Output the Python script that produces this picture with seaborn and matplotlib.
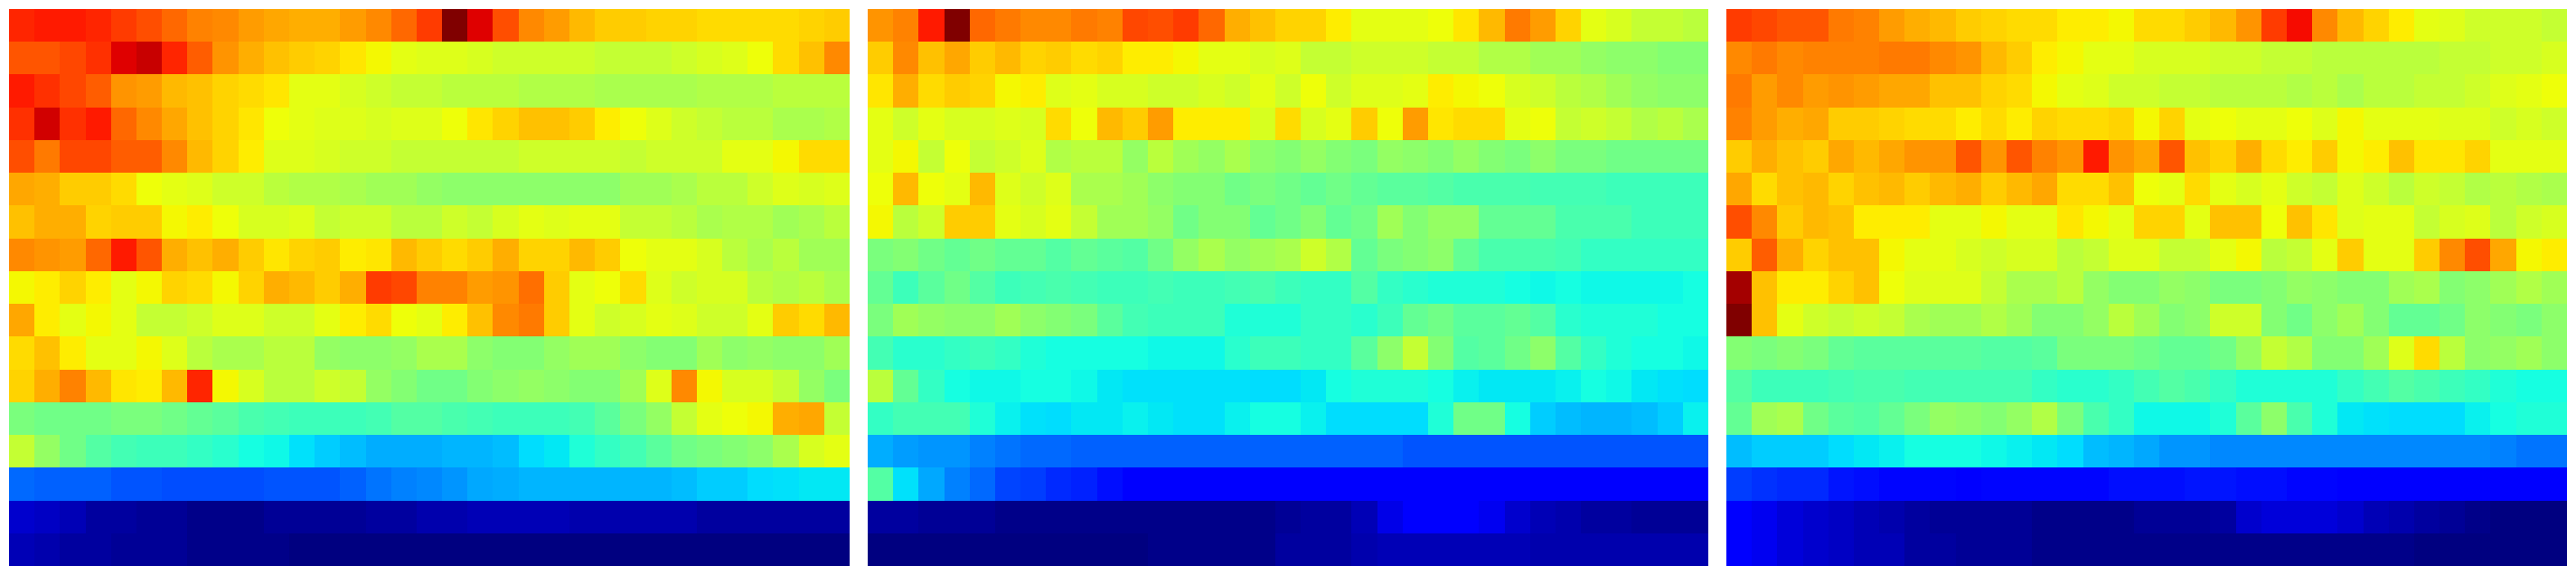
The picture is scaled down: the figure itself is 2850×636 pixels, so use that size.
import numpy as np
import matplotlib
matplotlib.use("Agg")
import matplotlib.pyplot as plt
from matplotlib.colors import FuncNorm
import seaborn as sns

# values on a 0-100 reading scale, top row first
panel_left = [
    [88,89,89,88,86,84,81,78,77,75,74,73,73,75,77,81,86,100,92,84,77,75,72,70,70,69,69,68,68,68,68,69,70],
    [83,83,85,87,92,94,88,82,76,73,71,70,69,67,65,63,62,62,61,60,60,60,60,59,59,59,60,61,62,64,68,71,77],
    [89,87,85,82,76,75,72,71,69,68,67,63,63,61,60,59,59,58,58,58,57,57,57,56,56,56,56,57,57,57,58,58,58],
    [87,93,87,89,81,77,74,71,69,67,64,63,62,62,61,62,62,64,67,69,71,71,70,66,64,62,60,59,58,58,56,56,57],
    [84,79,85,85,82,82,77,72,69,66,62,62,61,60,60,59,59,59,59,59,60,60,60,60,59,60,60,60,63,63,65,68,68],
    [74,73,70,70,68,64,63,62,60,60,58,57,57,56,55,55,54,53,53,53,53,53,53,53,55,55,56,58,58,60,62,61,62],
    [71,73,73,69,70,70,65,66,64,61,61,62,59,60,60,58,58,60,59,61,63,62,63,63,59,59,58,56,57,57,55,56,58],
    [77,76,75,81,89,83,73,71,73,70,67,69,70,66,67,72,70,68,70,73,69,69,72,70,64,63,63,61,58,56,58,55,55],
    [65,66,69,66,63,65,69,68,65,69,73,72,70,73,86,85,78,78,75,76,80,70,63,64,68,62,60,61,61,58,57,58,56],
    [74,66,63,65,63,59,59,60,62,62,60,60,63,66,68,64,63,66,71,77,79,70,63,60,61,63,62,60,60,63,70,68,72],
    [68,71,66,63,63,65,62,58,56,56,58,58,54,53,53,54,56,56,53,52,52,54,55,55,53,52,52,55,53,54,53,53,55],
    [69,73,78,72,67,66,72,88,65,61,58,58,60,59,54,52,50,50,52,53,54,53,52,52,55,62,77,65,61,61,59,54,51],
    [51,50,50,50,51,51,50,49,48,46,45,44,44,44,45,47,47,46,45,44,44,44,45,48,51,54,59,63,64,65,73,74,59],
    [59,54,50,47,45,44,44,43,42,40,39,36,34,33,31,31,31,32,32,33,35,37,41,43,45,48,50,51,52,53,56,61,63],
    [24,23,23,23,22,22,21,21,21,21,22,22,22,23,25,26,27,28,30,31,32,32,32,32,32,32,33,34,34,35,36,37,37],
    [7,6,5,3,3,2,2,1,1,1,2,2,2,2,3,3,4,4,5,5,5,5,4,4,4,4,4,3,3,3,3,3,3],
    [5,4,3,3,2,2,2,1,1,1,1,0,0,0,0,0,0,0,0,0,0,0,0,0,0,0,0,0,0,0,0,0,0],
]

panel_middle = [
    [76,78,89,100,81,79,77,77,79,78,85,84,86,81,73,71,69,69,66,63,63,63,64,67,72,79,75,69,63,61,59,59,58],
    [70,77,71,74,70,72,69,70,68,69,66,66,65,63,63,61,62,59,59,60,60,60,59,59,57,57,55,55,54,53,53,52,52],
    [67,73,68,70,69,65,66,62,63,61,61,60,60,61,60,63,60,64,60,62,62,63,66,65,64,61,60,58,57,55,54,53,53],
    [63,60,63,61,61,62,61,68,64,72,70,75,66,66,66,61,68,61,63,70,64,75,67,68,68,63,64,59,60,59,57,58,56],
    [63,65,59,64,59,60,62,57,58,58,54,58,55,54,56,53,52,54,52,51,54,53,52,54,52,51,53,51,51,50,50,50,50],
    [64,72,64,63,72,62,60,62,56,56,55,53,52,52,50,51,50,49,50,49,48,48,47,46,46,46,45,45,45,44,44,44,44],
    [65,58,60,70,70,63,61,63,59,55,55,54,50,52,52,49,50,52,49,50,55,52,54,54,49,49,49,46,46,46,44,44,44],
    [51,52,50,49,50,49,49,47,49,48,47,50,54,56,54,55,56,60,57,49,51,52,53,49,46,46,46,45,43,43,43,43,43],
    [49,44,48,50,47,44,45,46,45,44,44,45,44,44,45,46,44,43,43,47,43,42,41,41,41,40,39,40,39,39,39,39,40],
    [51,55,54,53,53,55,53,52,51,48,45,44,44,44,41,41,41,43,43,42,44,49,50,48,48,49,47,42,41,41,41,40,40],
    [45,42,42,43,44,43,41,40,40,40,40,39,39,39,42,44,44,43,43,48,53,59,52,47,48,50,53,47,43,41,40,40,39],
    [58,49,43,40,39,39,40,40,39,37,36,36,36,36,36,35,35,37,40,41,41,41,40,38,37,37,37,38,40,39,37,36,35],
    [43,45,45,45,41,38,36,35,37,37,38,37,36,36,38,40,40,38,35,35,35,35,41,50,50,40,34,33,32,32,33,34,38],
    [31,29,28,28,26,25,24,24,23,23,23,23,23,23,23,23,23,23,23,23,23,22,22,22,22,22,22,22,22,22,22,22,22],
    [47,36,30,26,24,20,19,17,16,14,12,11,11,11,11,11,11,11,11,11,11,11,11,11,11,11,11,11,11,11,11,11,11],
    [3,3,2,2,2,1,1,1,1,1,1,1,1,1,1,1,2,3,3,5,9,11,11,11,10,7,5,4,3,3,2,2,2],
    [0,0,0,0,0,0,0,0,0,0,0,1,1,1,1,1,3,3,3,4,5,5,5,5,5,5,4,4,4,4,4,4,4],
]

panel_right = [
    [86,85,83,83,79,78,75,73,72,70,69,68,68,66,66,65,68,68,70,72,76,86,90,77,72,69,66,63,62,60,60,60,59],
    [77,79,77,78,78,78,79,79,77,76,72,70,66,65,63,63,61,61,61,60,60,59,59,58,58,58,58,58,59,59,60,60,61],
    [79,75,77,75,76,75,74,74,71,71,69,68,65,63,62,60,60,59,59,58,58,58,57,58,56,58,58,59,59,60,62,63,64],
    [78,75,73,74,70,70,69,68,68,66,68,66,69,68,68,69,65,69,63,64,63,63,64,62,65,63,63,63,62,62,60,61,60],
    [70,73,71,70,74,72,74,76,76,83,76,83,78,76,89,76,74,83,71,69,73,68,66,70,65,66,71,67,67,69,63,63,63],
    [74,68,71,72,69,71,72,70,72,73,70,72,74,68,68,71,64,63,68,63,61,63,60,59,62,60,58,60,59,57,58,57,56],
    [84,77,70,72,71,66,66,66,63,63,65,63,63,67,65,63,69,69,63,71,71,64,71,67,62,63,63,59,61,62,58,60,61],
    [70,82,73,69,71,71,65,63,63,61,60,61,61,58,59,62,62,59,59,63,65,58,59,63,70,63,63,70,77,84,74,65,66],
    [97,71,66,66,69,71,64,62,62,62,59,56,56,58,54,52,52,54,53,51,51,52,54,53,52,52,55,56,52,53,55,57,55],
    [100,71,63,60,59,60,59,56,55,55,57,55,52,52,54,58,55,52,53,60,60,52,50,53,55,52,49,49,50,53,52,51,53],
    [52,51,52,51,49,48,48,48,48,48,47,47,48,51,51,51,50,49,49,50,54,59,57,52,52,55,62,68,58,53,54,55,53],
    [47,44,44,44,45,46,46,45,45,45,45,45,43,42,42,43,45,47,46,43,41,41,41,41,43,45,47,46,44,43,41,40,40],
    [49,55,56,50,48,47,49,51,54,53,52,54,57,51,46,43,39,39,39,41,48,53,46,41,37,36,35,35,35,38,40,41,41],
    [33,34,34,34,35,37,38,40,40,40,39,38,37,35,33,32,30,28,28,27,27,27,27,27,27,27,27,27,27,27,26,25,25],
    [19,18,17,17,15,14,13,13,13,12,13,13,13,13,13,14,14,14,15,15,14,14,13,13,12,12,11,11,11,11,11,11,11],
    [11,10,8,7,6,5,4,3,2,2,2,2,1,1,1,1,2,2,2,3,7,8,8,8,7,5,4,3,2,1,0,0,0],
    [11,10,8,7,6,5,5,3,3,2,2,2,1,1,1,1,1,1,1,1,1,1,1,1,1,1,1,0,0,0,0,0,0],
]

# reading scale against position on the jet colormap
scale_read = [0, 12, 23, 25, 27, 30, 33, 35, 37, 38, 40, 42, 44, 46, 48, 50, 52, 54, 56, 58, 60, 81, 85, 88, 90, 100]
scale_jet = [0, 12, 22, 24, 26, 29, 31, 34, 35.5, 36, 37.5, 40, 42.5, 44, 46, 48.5, 51, 53, 55.7, 57.5, 60, 80, 83.5, 87, 89.5, 100]

panels = [panel_left, panel_middle, panel_right]
lefts = [10, 960, 1910]

W, H = 2850, 636
norm = FuncNorm((lambda v: np.interp(v, scale_read, scale_jet),
                 lambda v: np.interp(v, scale_jet, scale_read)), vmin=0, vmax=100)

fig = plt.figure(figsize=(W / 100, H / 100), dpi=100)

for left, panel in zip(lefts, panels):
    ax = fig.add_axes([left / W, 10 / H, 930 / W, 616 / H])
    sns.heatmap(np.array(panel), ax=ax, cmap="jet", norm=norm,
                cbar=False, xticklabels=False, yticklabels=False)

fig.savefig("out.png", dpi=100)
